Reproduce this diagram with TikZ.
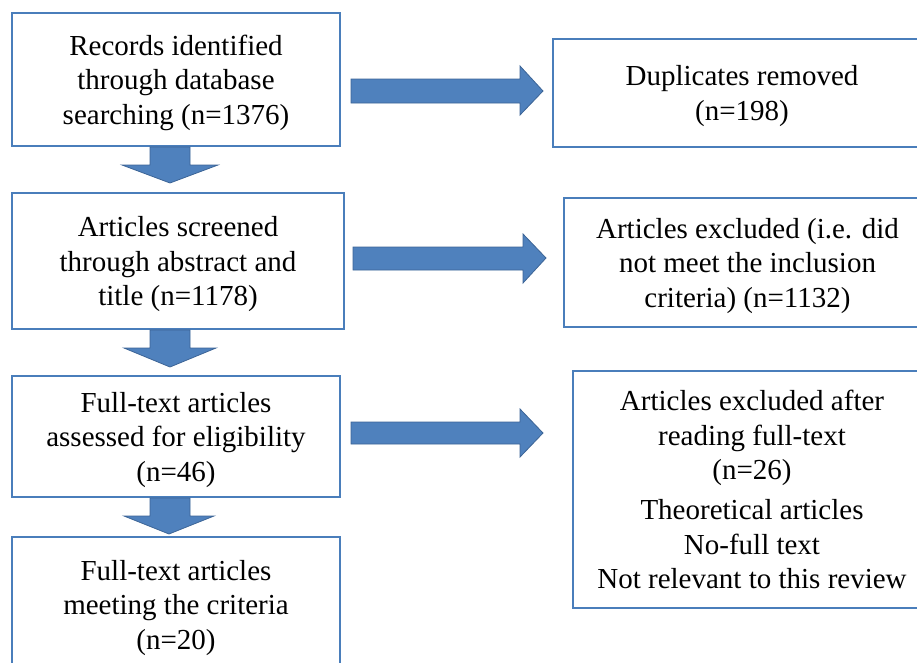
\documentclass[tikz,border=0pt]{standalone}
\usepackage{fontspec}
\setmainfont{Liberation Serif}
\definecolor{boxc}{RGB}{74,126,187}
\definecolor{arrf}{RGB}{79,129,189}
\definecolor{arrd}{RGB}{60,100,150}
\begin{document}
\begin{tikzpicture}[x=1pt,y=-1pt,
  flowbox/.style={draw=boxc, line width=2.2pt, fill=white, align=center, inner sep=0pt,
    font=\fontsize{29}{34.5}\selectfont},
  drop/.style={text depth=#1},
  blockarrow/.style={fill=arrf, draw=arrd, line width=0.8pt, line join=miter}]
\useasboundingbox (0,0) rectangle (917,662);
\clip (0,0) rectangle (917,662);
% left column
\node[flowbox, drop=-1.7pt, minimum width=328pt, minimum height=133pt] (b1) at (176,79.5)
  {Records identified\\through database\\searching (n=1376)};
\node[flowbox, drop=-8.7pt, minimum width=332pt, minimum height=136pt] (b2) at (178,261)
  {Articles screened\\through abstract and\\title (n=1178)};
\node[flowbox, drop=-7.7pt, minimum width=328pt, minimum height=121pt] (b3) at (176,436.5)
  {Full-text articles\\assessed for eligibility\\(n=46)};
\node[flowbox, drop=0.3pt, minimum width=328pt, minimum height=136pt] (b4) at (176,605)
  {Full-text articles\\meeting the criteria\\(n=20)};
% right column
\node[flowbox, drop=-7.7pt, minimum width=378pt, minimum height=108pt] (r1) at (742,93)
  {Duplicates removed\\(n=198)};
\node[flowbox, drop=-2.7pt, minimum width=367pt, minimum height=129pt] (r2) at (747.5,262.5)
  {Articles excluded (i.e. did\\not meet the inclusion\\criteria) (n=1132)};
\node[flowbox, minimum width=358pt, minimum height=237pt] (r3) at (752,489.5)
  {Articles excluded after\\reading full-text\\(n=26)\\[5.5pt]Theoretical articles\\No-full text\\Not relevant to this review};
% down arrows
\path[blockarrow] (150,147) -- (190,147) -- (190,165) -- (218,165) -- (170,183)
  -- (122,165) -- (150,165) -- cycle;
\path[blockarrow] (150,330) -- (190,330) -- (190,348) -- (216,348) -- (170,367)
  -- (124,348) -- (150,348) -- cycle;
\path[blockarrow] (150,498) -- (190,498) -- (190,516) -- (214,516) -- (169,534)
  -- (124,516) -- (150,516) -- cycle;
% right arrows
\path[blockarrow] (351,79) -- (520,79) -- (520,66) -- (543,91) -- (520,115)
  -- (520,103) -- (351,103) -- cycle;
\path[blockarrow] (353,247) -- (523,247) -- (523,234) -- (546,258) -- (523,283)
  -- (523,270) -- (353,270) -- cycle;
\path[blockarrow] (351,422) -- (520,422) -- (520,409) -- (543,433) -- (520,457)
  -- (520,444) -- (351,444) -- cycle;
\end{tikzpicture}
\end{document}
